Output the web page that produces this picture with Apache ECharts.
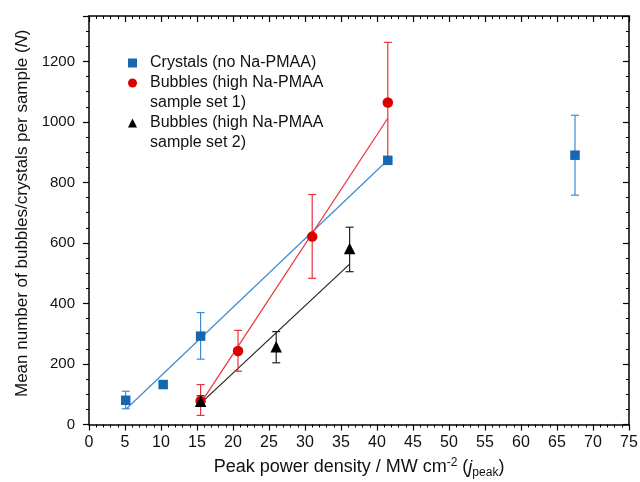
<!DOCTYPE html>
<html><head><meta charset="utf-8">
<script src="https://cdn.jsdelivr.net/npm/echarts@6/dist/echarts.min.js"></script>
<style>html,body{margin:0;padding:0;background:#fff}#c{width:640px;height:482px}</style>
</head><body><div id="c"></div>
<script>
// ---- data ----
const crystalsX = [5.1, 10.3, 15.5, 41.5, 67.5];
const crystalsY = [80, 132, 292, 873, 890];
const crystalsLow = [52, null, 216, null, 758];
const crystalsHigh = [110, null, 370, null, 1022];

const bub1X = [15.5, 20.7, 31.0, 41.5];
const bub1Y = [78, 243, 621, 1064];
const bub1Low = [30, 176, 483, 870];
const bub1High = [132, 311, 760, 1263];

const bub2X = [15.5, 26.0, 36.2];
const bub2Y = [77, 257, 582];
const bub2Low = [60, 204, 505];
const bub2High = [95, 307, 652];

const crystalsFitX = [5.2, 41.5], crystalsFitY = [52, 874];
const bub1FitX = [15.5, 41.5], bub1FitY = [70, 1012];
const bub2FitX = [15.5, 36.2], bub2FitY = [70, 530];

const names = ['Crystals (no Na-PMAA)', 'Bubbles (high Na-PMAA\nsample set 1)', 'Bubbles (high Na-PMAA\nsample set 2)'];

const BLUE = '#1766b0', BLUE_L = '#3d8bd3';
const RED = '#dd0000', RED_L = '#e8333b';
const BLACK = '#000000';
const FONT = 'Liberation Sans';

function pts(xs, ys) { return xs.map((x, i) => [x, ys[i]]); }
function errs(xs, lo, hi) {
  const out = [];
  xs.forEach((x, i) => { if (lo[i] != null) out.push([x, lo[i], hi[i]]); });
  return out;
}
function errSeries(data, color) {
  return {
    type: 'custom', data: data, z: 3, silent: true,
    renderItem: function (params, api) {
      const top = api.coord([api.value(0), api.value(2)]);
      const bot = api.coord([api.value(0), api.value(1)]);
      const w = 4;
      const st = { stroke: color, lineWidth: 1.2 };
      return { type: 'group', children: [
        { type: 'line', shape: { x1: top[0], y1: top[1], x2: bot[0], y2: bot[1] }, style: st },
        { type: 'line', shape: { x1: top[0] - w, y1: top[1], x2: top[0] + w, y2: top[1] }, style: st },
        { type: 'line', shape: { x1: bot[0] - w, y1: bot[1], x2: bot[0] + w, y2: bot[1] }, style: st }
      ]};
    }
  };
}
function fitSeries(xs, ys, color) {
  return { type: 'line', data: pts(xs, ys), symbol: 'none', silent: true, z: 2,
    lineStyle: { color: color, width: 1.2 } };
}

const chart = echarts.init(document.getElementById('c'));
const axisLine = { show: true, onZero: false, lineStyle: { color: '#000', width: 1.5 } };
const legendBase = { orient: 'vertical', left: 128, padding: 0, itemWidth: 9, itemHeight: 9, itemGap: 12,
  selectedMode: false,
  formatter: function (n) {
    const lines = n.indexOf('\n') >= 0 ? [' '].concat(n.split('\n')) : [n];
    return lines.map(function (l) { return '{t|' + l + '}'; }).join('\n');
  },
  textStyle: { fontFamily: FONT, fontSize: 16, color: '#111', lineHeight: 20,
    rich: { t: { fontFamily: FONT, fontSize: 16, color: '#111', lineHeight: 20, padding: [0, 0, 0, 8] } } } };

chart.setOption({
  animation: false,
  grid: { left: 89, right: 11, top: 16, bottom: 57.5, outerBoundsMode: 'none', containLabel: false },
  legend: [
    Object.assign({}, legendBase, { top: 53, data: [{ name: names[0], icon: 'rect' }] }),
    Object.assign({}, legendBase, { top: 53, data: [{ name: names[1], icon: 'circle' }] }),
    Object.assign({}, legendBase, { top: 93, data: [{ name: names[2], icon: 'triangle' }] })
  ],
  xAxis: [{
    type: 'value', min: 0, max: 75, interval: 5, position: 'bottom',
    axisLine: axisLine, splitLine: { show: false },
    axisTick: { show: true, length: 6, lineStyle: { color: '#000', width: 1.2 } },
    minorTick: { show: true, splitNumber: 5, length: 3, lineStyle: { color: '#000', width: 1 } },
    axisLabel: { fontFamily: FONT, fontSize: 16, color: '#111', margin: 10 },
    name: 'Peak power density / MW cm{sup|-2} ({it|j}{sub|peak})',
    nameLocation: 'middle', nameGap: 32,
    nameTextStyle: { fontFamily: FONT, fontSize: 18, color: '#111', lineHeight: 22,
      rich: {
        sup: { fontFamily: FONT, fontSize: 12, verticalAlign: 'top', lineHeight: 12, color: '#111' },
        sub: { fontFamily: FONT, fontSize: 12, verticalAlign: 'bottom', lineHeight: 12, color: '#111' },
        it: { fontFamily: FONT, fontSize: 18, fontStyle: 'italic', color: '#111', lineHeight: 22 }
      } }
  }, {
    type: 'value', min: 0, max: 75, interval: 5, position: 'top',
    axisLine: axisLine, splitLine: { show: false }, axisLabel: { show: false },
    axisTick: { show: true, inside: true, length: 6, lineStyle: { color: '#000', width: 1.2 } },
    minorTick: { show: true, splitNumber: 5, length: 3, lineStyle: { color: '#000', width: 1 } }
  }],
  yAxis: [{
    type: 'value', min: 0, max: 1350, interval: 200, position: 'left',
    axisLine: axisLine, splitLine: { show: false },
    axisTick: { show: true, length: 6, lineStyle: { color: '#000', width: 1.2 } },
    minorTick: { show: true, splitNumber: 4, length: 3, lineStyle: { color: '#000', width: 1 } },
    axisLabel: { fontFamily: FONT, fontSize: 15, color: '#111', margin: 14, showMaxLabel: false,
      formatter: function (v) { return v % 200 === 0 ? String(v) : ''; } },
    name: 'Mean number of bubbles/crystals per sample ({it|N})',
    nameLocation: 'middle', nameGap: 57,
    nameTextStyle: { fontFamily: FONT, fontSize: 17, color: '#111', padding: [0, 0, 0, 14],
      rich: { it: { fontFamily: FONT, fontSize: 17, fontStyle: 'italic', color: '#111' } } }
  }, {
    type: 'value', min: 0, max: 1350, interval: 200, position: 'right',
    axisLine: axisLine, splitLine: { show: false }, axisLabel: { show: false },
    axisTick: { show: true, inside: true, length: 6, lineStyle: { color: '#000', width: 1.2 } },
    minorTick: { show: true, splitNumber: 4, length: 3, lineStyle: { color: '#000', width: 1 } }
  }],
  series: [
    fitSeries(crystalsFitX, crystalsFitY, BLUE_L),
    fitSeries(bub1FitX, bub1FitY, RED_L),
    fitSeries(bub2FitX, bub2FitY, '#222'),
    errSeries(errs(crystalsX, crystalsLow, crystalsHigh), BLUE_L),
    errSeries(errs(bub1X, bub1Low, bub1High), RED_L),
    errSeries(errs(bub2X, bub2Low, bub2High), '#222'),
    { name: names[0], type: 'scatter', data: pts(crystalsX, crystalsY), symbol: 'rect', symbolSize: 9.5,
      itemStyle: { color: BLUE, opacity: 1 }, z: 5 },
    { name: names[1], type: 'scatter', data: pts(bub1X, bub1Y), symbol: 'circle', symbolSize: 10.5,
      itemStyle: { color: RED, opacity: 1 }, z: 5 },
    { name: names[2], type: 'scatter', data: pts(bub2X, bub2Y), symbol: 'triangle', symbolSize: 11.5,
      itemStyle: { color: BLACK, opacity: 1 }, z: 6 }
  ]
});
</script></body></html>
